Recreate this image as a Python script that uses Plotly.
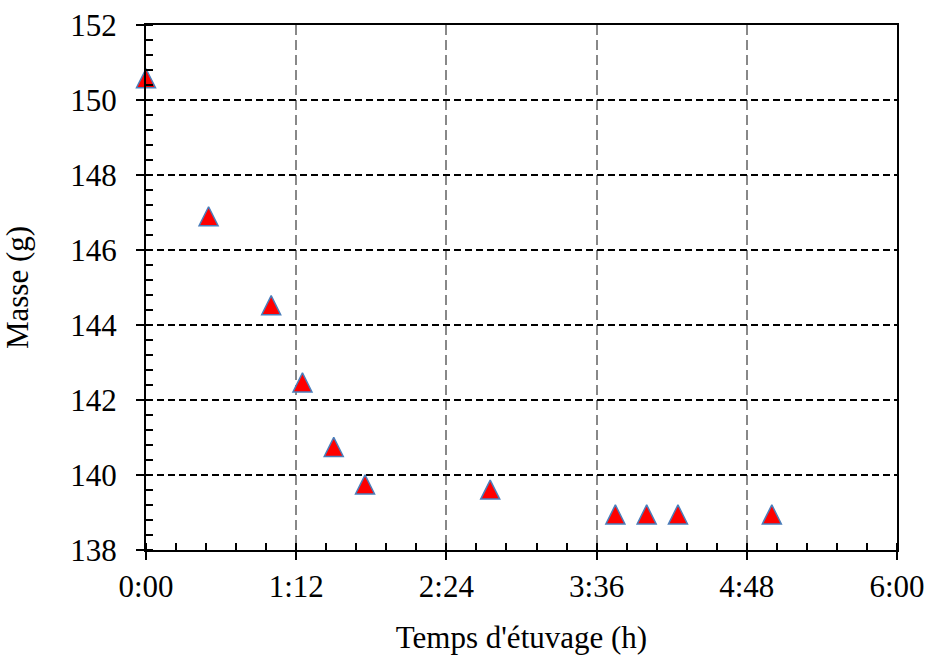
import plotly.graph_objects as go

# Data (time in minutes, mass in g)
temps_min = [0, 30, 60, 75, 90, 105, 165, 225, 240, 255, 300]
masse_g = [150.58, 146.9, 144.53, 142.47, 140.75, 139.75, 139.61, 138.95, 138.95, 138.95, 138.95]

x_tickvals = [0, 72, 144, 216, 288, 360]
x_ticktext = ["0:00", "1:12", "2:24", "3:36", "4:48", "6:00"]
y_tickvals = [138, 140, 142, 144, 146, 148, 150, 152]

FONT = "Liberation Serif"
FS = 31
msize = 19

fig = go.Figure()
fig.add_trace(go.Scatter(
    x=temps_min, y=masse_g, mode="markers",
    marker=dict(symbol="arrow-down", angle=180, standoff=msize / 2, size=msize,
                color="#FF0000", line=dict(color="#4A7EBB", width=1.5)),
    showlegend=False, cliponaxis=False,
))

fig.update_layout(
    width=927, height=655,
    margin=dict(l=146, r=30, t=25, b=105, autoexpand=False),
    paper_bgcolor="white", plot_bgcolor="white",
    font=dict(family=FONT, size=FS, color="black"),
    xaxis=dict(
        range=[0, 360], tickmode="array", tickvals=x_tickvals, ticktext=x_ticktext,
        ticks="outside", ticklen=8, tickwidth=2, tickcolor="black",
        showline=True, linecolor="black", linewidth=2, mirror=True,
        showgrid=True, gridcolor="#888888", gridwidth=2, griddash="10px,5px",
        minor=dict(dtick=14.4, tick0=0, ticks="inside", ticklen=7, tickwidth=1.5,
                   tickcolor="black", showgrid=False),
        zeroline=False, ticklabelstandoff=0, automargin=False,
        tickfont=dict(family=FONT, size=FS),
        title=dict(text="Temps d'étuvage (h)", font=dict(family=FONT, size=FS), standoff=24),
    ),
    yaxis=dict(
        range=[138, 152], tickmode="array", tickvals=y_tickvals,
        ticks="outside", ticklen=8, tickwidth=2, tickcolor="black",
        showline=True, linecolor="black", linewidth=2, mirror=True,
        showgrid=True, gridcolor="black", gridwidth=1.5, griddash="7px,4px",
        minor=dict(dtick=0.4, tick0=138, ticks="inside", ticklen=7, tickwidth=1.5,
                   tickcolor="black", showgrid=False),
        zeroline=False, ticklabelstandoff=13, automargin=False,
        tickfont=dict(family=FONT, size=FS),
        title=dict(text="Masse (g)", font=dict(family=FONT, size=FS), standoff=33),
    ),
    xaxis2=dict(
        range=[0, 360], overlaying="x", anchor="y", side="bottom",
        tickmode="array", tickvals=x_tickvals, ticks="inside", ticklen=7, tickwidth=2,
        tickcolor="black", showticklabels=False, showgrid=False, showline=False, zeroline=False,
    ),
    yaxis2=dict(
        range=[138, 152], overlaying="y", anchor="x", side="left",
        tickmode="array", tickvals=y_tickvals, ticks="inside", ticklen=7, tickwidth=2,
        tickcolor="black", showticklabels=False, showgrid=False, showline=False, zeroline=False,
    ),
)

# invisible trace to activate overlay axes
fig.add_trace(go.Scatter(x=[None], y=[None], xaxis="x2", yaxis="y2", showlegend=False, hoverinfo="skip"))

fig.write_html("out.html", config={"displayModeBar": False},
               post_script="document.body.style.margin='0';document.body.style.overflow='hidden';")
